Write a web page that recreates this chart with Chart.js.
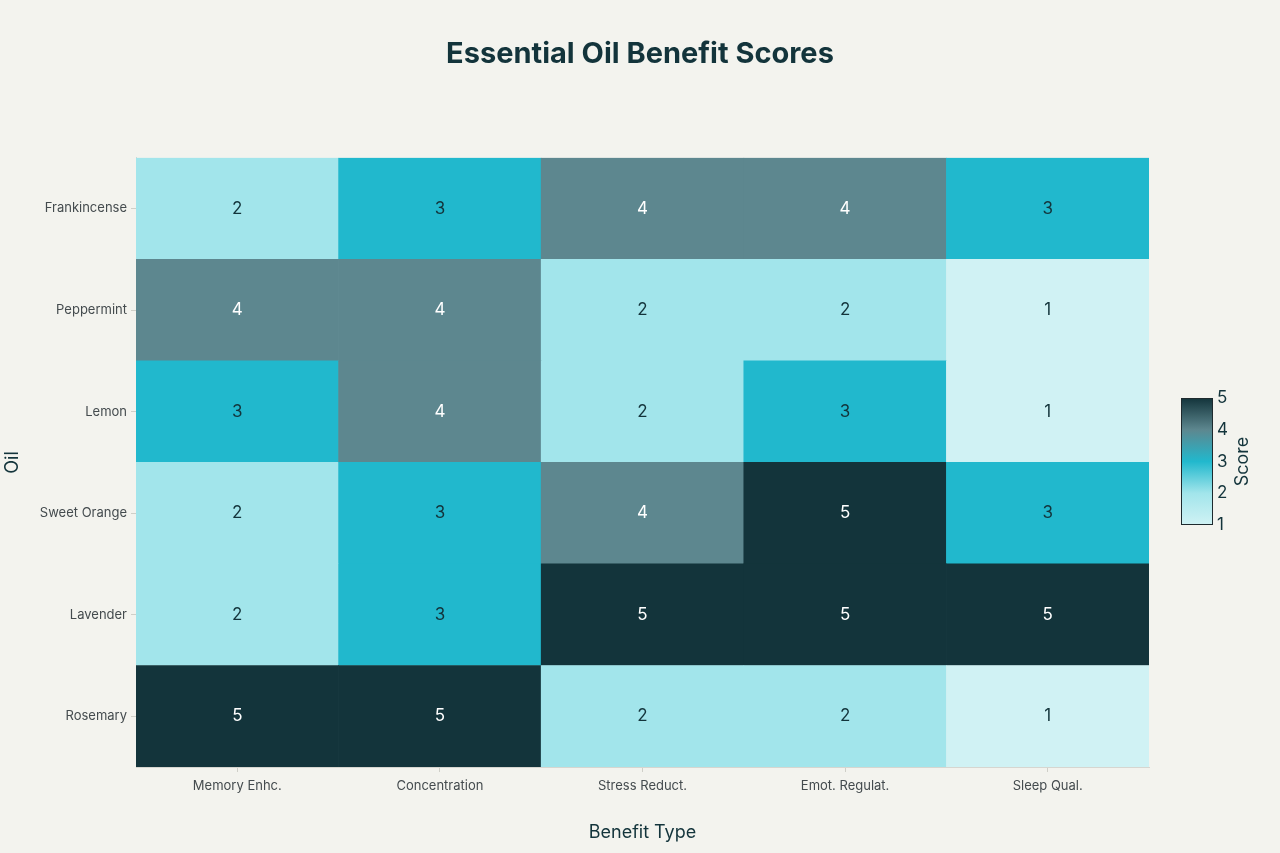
<!DOCTYPE html>
<html>
<head>
  <title>Essential Oil Benefit Scores</title>
  <script src="https://cdn.jsdelivr.net/npm/chart.js"></script>
  <style>
    html, body {
      margin: 0;
      padding: 0;
      background: #F3F3EE;
    }
    .wrap {
      width: 1280px;
      height: 853px;
    }
  </style>
</head>
<body>
  <div class="wrap"><canvas id="chart" width="1280" height="853"></canvas></div>

  <script>
    // Rows from bottom to top, columns left to right
    var oils = ["Rosemary", "Lavender", "Sweet Orange", "Lemon", "Peppermint", "Frankincense"];
    var benefits = ["Memory Enhc.", "Concentration", "Stress Reduct.", "Emot. Regulat.", "Sleep Qual."];

    var rosemary    = [5, 5, 2, 2, 1];
    var lavender    = [2, 3, 5, 5, 5];
    var sweetOrange = [2, 3, 4, 5, 3];
    var lemon       = [3, 4, 2, 3, 1];
    var peppermint  = [4, 4, 2, 2, 1];
    var frankincense = [2, 3, 4, 4, 3];
    var scoreRows = [rosemary, lavender, sweetOrange, lemon, peppermint, frankincense];

    var scoreTicks = [1, 2, 3, 4, 5];
    var scoreColors = ["#D0F2F4", "#A2E5EB", "#21B8CD", "#5D878F", "#13343B"];

    function colorFor(v) {
      return scoreColors[v - 1];
    }

    // one dataset per oil, each cell is a floating bar covering its row
    var datasets = scoreRows.map(function(row, r) {
      return {
        label: oils[r],
        data: row.map(function() { return [r - 0.5, r + 0.5]; }),
        scores: row,
        backgroundColor: row.map(colorFor),
        borderWidth: 0,
        grouped: false,
        barPercentage: 1,
        categoryPercentage: 1
      };
    });

    var cellLabels = {
      id: "cellLabels",
      afterDatasetsDraw: function(chart) {
        var ctx = chart.ctx;
        ctx.save();
        ctx.font = "17px Inter, 'Noto Sans', sans-serif";
        ctx.textAlign = "center";
        ctx.textBaseline = "middle";
        chart.data.datasets.forEach(function(ds, i) {
          chart.getDatasetMeta(i).data.forEach(function(bar, j) {
            var v = ds.scores[j];
            var p = bar.getCenterPoint();
            ctx.fillStyle = v >= 4 ? "#FFFFFF" : "#13343B";
            ctx.fillText(String(v), p.x, p.y);
          });
        });
        ctx.restore();
      }
    };

    var colorBar = {
      id: "colorBar",
      afterDraw: function(chart) {
        var ctx = chart.ctx;
        var x = 1181, top = 398, w = 32, h = 127;
        ctx.save();
        var g = ctx.createLinearGradient(0, top + h, 0, top);
        scoreColors.forEach(function(c, i) {
          g.addColorStop(i / (scoreColors.length - 1), c);
        });
        ctx.fillStyle = g;
        ctx.fillRect(x, top, w, h);
        ctx.strokeStyle = "#1E2A2E";
        ctx.lineWidth = 1;
        ctx.strokeRect(x + 0.5, top + 0.5, w - 1, h - 1);

        ctx.fillStyle = "#13343B";
        ctx.font = "17px Inter, 'Noto Sans', sans-serif";
        ctx.textAlign = "left";
        ctx.textBaseline = "middle";
        scoreTicks.forEach(function(t) {
          var y = top + h - (t - 1) / 4 * h;
          ctx.fillText(String(t), x + w + 4, y);
        });

        ctx.font = "18px Inter, 'Noto Sans', sans-serif";
        ctx.translate(1243, top + h / 2);
        ctx.rotate(-Math.PI / 2);
        ctx.textAlign = "center";
        ctx.fillText("Score", 0, 0);
        ctx.restore();
      }
    };

    var chart = new Chart(document.getElementById("chart"), {
      type: "bar",
      data: {
        labels: benefits,
        datasets: datasets
      },
      plugins: [cellLabels, colorBar],
      options: {
        responsive: false,
        animation: false,
        layout: {
          padding: 0
        },
        plugins: {
          legend: { display: false },
          tooltip: { enabled: false },
          title: {
            display: true,
            text: "Essential Oil Benefit Scores",
            color: "#13343B",
            font: { family: "Inter, 'Noto Sans', sans-serif", size: 29, weight: "bold" },
            padding: { top: 37, bottom: 86 }
          }
        },
        scales: {
          x: {
            type: "category",
            offset: true,
            afterFit: function(scale) { scale.height = 86; },
            grid: { drawOnChartArea: false, offset: false, color: "#CFCFC8", tickLength: 5 },
            border: { display: true, color: "#D6D6D0" },
            ticks: {
              color: "#444B4E",
              padding: 6,
              font: { family: "Inter, 'Noto Sans', sans-serif", size: 13 }
            },
            title: {
              display: true,
              text: "Benefit Type",
              color: "#13343B",
              font: { family: "Inter, 'Noto Sans', sans-serif", size: 18 },
              padding: { top: 0, bottom: 10 }
            }
          },
          y: {
            type: "linear",
            min: -0.5,
            max: oils.length - 0.5,
            afterFit: function(scale) { scale.width = 136; },
            afterBuildTicks: function(scale) {
              scale.ticks = oils.map(function(_, i) { return { value: i }; });
            },
            grid: { drawOnChartArea: false, color: "#CFCFC8", tickLength: 5 },
            border: { display: true, color: "#D6D6D0" },
            ticks: {
              color: "#444B4E",
              padding: 4,
              font: { family: "Inter, 'Noto Sans', sans-serif", size: 13 },
              callback: function(value) { return oils[value]; }
            },
            title: {
              display: true,
              text: "Oil",
              color: "#13343B",
              font: { family: "Inter, 'Noto Sans', sans-serif", size: 18 },
              padding: { top: 2, bottom: 0 }
            }
          },
          // empty right-hand strip that leaves room for the colour bar
          yRight: {
            type: "linear",
            position: "right",
            afterFit: function(scale) { scale.width = 131; },
            grid: { display: false },
            border: { display: false },
            ticks: { display: false }
          }
        }
      }
    });
  </script>
</body>
</html>
